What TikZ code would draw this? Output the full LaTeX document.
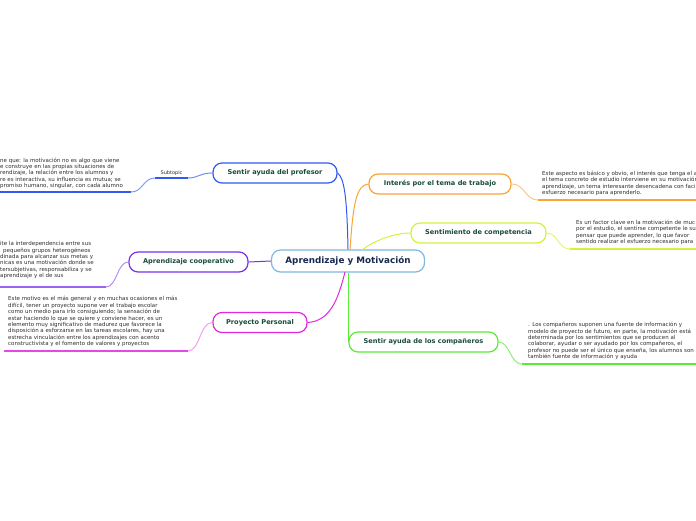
\documentclass[tikz,border=0pt]{standalone}
\usepackage{fontspec}
\setmainfont{DejaVu Sans}
\usetikzlibrary{positioning}
\definecolor{myblue}{RGB}{50,90,240}
\definecolor{mypurple}{RGB}{120,50,235}
\definecolor{mymagenta}{RGB}{225,40,225}
\definecolor{myorange}{RGB}{247,165,55}
\definecolor{mylime}{RGB}{215,240,60}
\definecolor{mygreen}{RGB}{90,235,55}
\definecolor{centblue}{RGB}{125,185,225}
\definecolor{labelgreen}{RGB}{25,75,60}
\definecolor{centnavy}{RGB}{25,40,80}
\definecolor{bodygray}{RGB}{45,45,45}
\tikzset{
  tp/.style={fill=white, rounded corners=9pt, line width=1.2pt,
             minimum width=#1, minimum height=20pt, inner sep=0pt,
             font=\fontsize{6.6}{7.5}\selectfont\bfseries, text=labelgreen},
  tpB/.style={tp=#1, draw=myblue},
  tpP/.style={tp=#1, draw=mypurple},
  tpM/.style={tp=#1, draw=mymagenta},
  tpO/.style={tp=#1, draw=myorange},
  tpL/.style={tp=#1, draw=mylime},
  tpG/.style={tp=#1, draw=mygreen},
  note/.style={anchor=south west, inner sep=0pt, align=left,
               font=\fontsize{5.5}{6.4}\selectfont, text=bodygray},
  link/.style={draw=#1, line width=1pt},
  uline/.style={draw=#1, line width=1.8pt},
}
\begin{document}
\begin{tikzpicture}[x=1pt, y=-1pt]
  \useasboundingbox (0,0) rectangle (696,520);
  \clip (0,0) rectangle (696,520);

  % central topic
  \node[fill=white, draw=centblue, line width=1.2pt, rounded corners=9pt,
        minimum width=153pt, minimum height=22pt, inner sep=0pt,
        font=\fontsize{8.8}{10}\selectfont\bfseries, text=centnavy]
        (cent) at (348,261) {Aprendizaje y Motivación};

  % main topics
  \node[tpB=124pt] (prof) at (275,173) {Sentir ayuda del profesor};
  \node[tpP=119pt] (coop) at (188.5,262) {Aprendizaje cooperativo};
  \node[tpM=94pt]  (proy) at (260,322.5) {Proyecto Personal};
  \node[tpO=142pt] (inte) at (440,184) {Interés por el tema de trabajo};
  \node[tpL=135pt] (sent) at (478.5,233) {Sentimiento de competencia};
  \node[tpG=149pt] (comp) at (423.5,342) {Sentir ayuda de los compañeros};

  % anchors for the sub-topic lines
  \coordinate (subR) at (188,178);
  \coordinate (subL) at (155,178);
  \coordinate (profA) at (131,192);
  \coordinate (profB) at (0,192);
  \coordinate (coopA) at (106,287);
  \coordinate (coopB) at (0,287);
  \coordinate (proyA) at (188,351);
  \coordinate (proyB) at (4,351);
  \coordinate (inteA) at (538,200);
  \coordinate (inteB) at (696,200);
  \coordinate (sentA) at (570,249);
  \coordinate (sentB) at (696,249);
  \coordinate (compA) at (522,364);
  \coordinate (compB) at (696,364);

  % main connectors
  \draw[link=myblue] (cent.north -| 348,0) .. controls (347,195) and (344,178) .. (prof.east);
  \draw[link=myorange] (350,250) .. controls (353,205) and (356,185) .. (inte.west);
  \draw[link=mylime] (362,250) .. controls (375,240) and (395,233) .. (sent.west);
  \draw[link=mygreen] (cent.south -| comp.west) -- (comp.west);
  \draw[link=mymagenta] (345,272) .. controls (338,300) and (330,321) .. (proy.east);
  \draw[link=mypurple] (cent.west) -- (coop.east);

  % sub-topic connectors and underlines
  \draw[link=myblue!70] (prof.west) .. controls (200,173) and (198,178) .. (subR);
  \node[inner sep=0pt, anchor=south, font=\fontsize{5}{6}\selectfont, text=bodygray]
       (subt) at (171.5,176) {Subtopic};
  \draw[uline=myblue] (subL) -- (subR);
  \draw[link=myblue!60] (subL) .. controls (143,178) and (143,192) .. (profA);
  \draw[uline=myblue] (profA) -- (profB);

  \draw[link=mypurple!55] (coop.west) .. controls (117,262) and (117,287) .. (coopA);
  \draw[uline=mypurple!75] (coopA) -- (coopB);

  \draw[link=mymagenta!45] (proy.west) .. controls (200,322) and (200,351) .. (proyA);
  \draw[uline=mymagenta!85] (proyA) -- (proyB);

  \draw[link=myorange!60] (inte.east) .. controls (525,184) and (525,200) .. (inteA);
  \draw[uline=myorange] (inteA) -- (inteB);

  \draw[link=mylime!70] (sent.east) .. controls (558,233) and (558,249) .. (sentA);
  \draw[uline=mylime] (sentA) -- (sentB);

  \draw[link=mygreen!70] (comp.east) .. controls (510,342) and (510,364) .. (compA);
  \draw[uline=mygreen] (compA) -- (compB);

  % notes
  \node[note] (profNote) at (0,189) {ne que: la motivación no es algo que viene\\
    e construye en las propias situaciones de\\
    rendizaje, la relación entre los alumnos y\\
    re es interactiva, su influencia es mutua; se\\
    promiso humano, singular, con cada alumno};
  \node[note] (coopNote) at (0,279) {ite la interdependencia entre sus\\
    \hspace{3pt}pequeños grupos heterogéneos\\
    dinada para alcanzar sus metas y\\
    nicas es una motivación donde se\\
    tersubjetivas, responsabiliza y se\\
    aprendizaje y el de sus};
  \node[note] (proyNote) at (8,347) {Este motivo es el más general y en muchas ocasiones el más\\
    difícil, tener un proyecto supone ver el trabajo escolar\\
    como un medio para irlo consiguiendo; la sensación de\\
    estar haciendo lo que se quiere y conviene hacer, es un\\
    elemento muy significativo de madurez que favorece la\\
    disposición a esforzarse en las tareas escolares, hay una\\
    estrecha vinculación entre los aprendizajes con acento\\
    constructivista y el fomento de valores y proyectos};
  \node[note] (inteNote) at (542,196) {Este aspecto es básico y obvio, el interés que tenga el a\\
    el tema concreto de estudio interviene en su motivación\\
    aprendizaje, un tema interesante desencadena con faci\\
    esfuerzo necesario para aprenderlo.};
  \node[note] (sentNote) at (576,245) {Es un factor clave en la motivación de muc\\
    por el estudio, el sentirse competente le su\\
    pensar que puede aprender, lo que favor\\
    sentido realizar el esfuerzo necesario para};
  \node[note] (compNote) at (528,360) {. Los compañeros suponen una fuente de información y\\
    modelo de proyecto de futuro, en parte, la motivación está\\
    determinada por los sentimientos que se producen al\\
    colaborar, ayudar o ser ayudado por los compañeros, el\\
    profesor no puede ser el único que enseña, los alumnos son\\
    también fuente de información y ayuda};
\end{tikzpicture}
\end{document}
